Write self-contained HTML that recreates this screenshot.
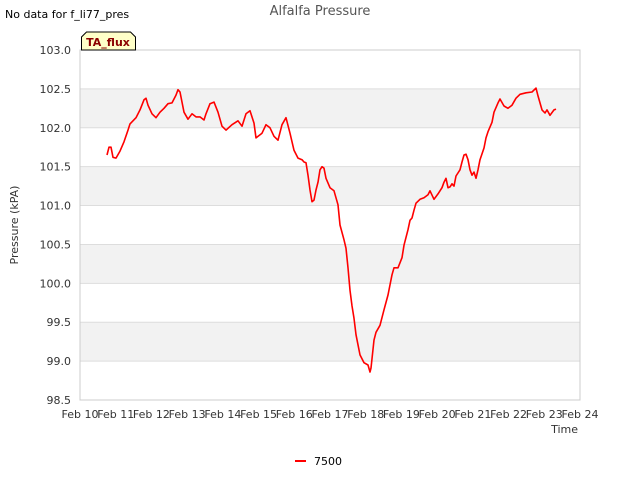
<!DOCTYPE html>
<html><head><meta charset="utf-8"><style>
body{margin:0;background:#fff}
svg{display:block;font-family:"DejaVu Sans","Liberation Sans",sans-serif}
</style></head><body>
<svg id="chart" width="640" height="480" viewBox="0 0 640 480">
<text x="5" y="18" font-size="11" fill="#000">No data for f_li77_pres</text>
<text x="320" y="15" font-size="13" fill="#555" text-anchor="middle">Alfalfa Pressure</text>
<g id="bands"></g>
<g id="grid"></g>
<rect x="80" y="50" width="500" height="350" fill="none" stroke="#ccc"/>
<g id="yticks"></g>
<g id="xticks"></g>
<text x="18" y="225" font-size="11" fill="#333" text-anchor="middle" transform="rotate(-90 18 225)">Pressure (kPA)</text>
<text x="578" y="433" font-size="11" fill="#333" text-anchor="end">Time</text>
<path id="series" fill="none" stroke="#f00" stroke-width="1.6" stroke-linejoin="round"/>
<g>
<path d="M81.5,50 L81.5,37 L86.5,32 L130.5,32 L135.5,37 L135.5,50 Z" fill="#ffffc8" stroke="#000" stroke-width="1"/>
<text x="108" y="46" font-size="11" font-weight="bold" fill="#8b0000" text-anchor="middle">TA_flux</text>
</g>
<g>
<line x1="295" y1="461" x2="306" y2="461" stroke="#f00" stroke-width="2"/>
<text x="314" y="465" font-size="11" fill="#000">7500</text>
</g>
</svg>
<script>
const yTicks=[98.5,99.0,99.5,100.0,100.5,101.0,101.5,102.0,102.5,103.0];
const xLabels=["Feb 10","Feb 11","Feb 12","Feb 13","Feb 14","Feb 15","Feb 16","Feb 17","Feb 18","Feb 19","Feb 20","Feb 21","Feb 22","Feb 23","Feb 24"];
const days=[0.756,0.812,0.868,0.924,1.008,1.12,1.232,1.344,1.4,1.568,1.68,1.792,1.848,1.904,2.016,2.128,2.24,2.352,2.464,2.576,2.688,2.744,2.8,2.912,3.024,3.136,3.248,3.36,3.472,3.528,3.64,3.752,3.864,3.976,4.088,4.256,4.424,4.536,4.648,4.76,4.872,4.928,5.096,5.208,5.32,5.432,5.544,5.656,5.768,5.88,5.992,6.104,6.216,6.272,6.328,6.384,6.44,6.496,6.552,6.608,6.664,6.72,6.776,6.832,6.888,7.0,7.112,7.224,7.28,7.392,7.448,7.504,7.56,7.616,7.672,7.728,7.784,7.84,7.952,8.064,8.12,8.148,8.232,8.288,8.4,8.512,8.624,8.68,8.736,8.792,8.848,8.904,9.016,9.072,9.184,9.24,9.296,9.352,9.408,9.52,9.632,9.744,9.8,9.912,10.024,10.136,10.192,10.248,10.304,10.36,10.416,10.472,10.528,10.64,10.696,10.752,10.808,10.864,10.92,10.976,11.032,11.088,11.144,11.2,11.312,11.368,11.424,11.536,11.592,11.704,11.76,11.872,11.984,12.096,12.208,12.32,12.488,12.656,12.768,12.824,12.936,13.02,13.076,13.16,13.272,13.328];
const pressure=[101.65,101.75,101.75,101.62,101.61,101.70,101.82,101.97,102.05,102.13,102.23,102.36,102.38,102.29,102.18,102.13,102.20,102.25,102.31,102.32,102.42,102.49,102.46,102.20,102.11,102.18,102.14,102.14,102.10,102.18,102.31,102.33,102.20,102.02,101.97,102.04,102.09,102.02,102.18,102.22,102.06,101.87,101.93,102.04,102.00,101.89,101.84,102.04,102.13,101.93,101.71,101.61,101.59,101.56,101.55,101.39,101.20,101.05,101.07,101.20,101.30,101.46,101.50,101.48,101.35,101.23,101.19,101.01,100.75,100.56,100.45,100.20,99.91,99.71,99.55,99.34,99.21,99.08,98.98,98.95,98.86,98.91,99.27,99.37,99.46,99.66,99.85,99.98,100.11,100.20,100.20,100.20,100.33,100.49,100.69,100.81,100.84,100.94,101.03,101.08,101.10,101.14,101.19,101.08,101.15,101.23,101.30,101.35,101.23,101.24,101.28,101.25,101.38,101.46,101.56,101.65,101.66,101.59,101.46,101.39,101.43,101.35,101.46,101.59,101.74,101.87,101.95,102.07,102.20,102.32,102.37,102.28,102.25,102.29,102.38,102.43,102.45,102.46,102.51,102.41,102.23,102.19,102.23,102.16,102.23,102.24];
const X0=80,X1=580,Y0=400,Y1=50,YMIN=98.5,YMAX=103.0,DMAX=14;
const sx=d=>X0+(X1-X0)*d/DMAX;
const sy=v=>Y0-(Y0-Y1)*(v-YMIN)/(YMAX-YMIN);
const NS="http://www.w3.org/2000/svg";
const bands=document.getElementById('bands'),grid=document.getElementById('grid'),yt=document.getElementById('yticks'),xt=document.getElementById('xticks');
for(let i=0;i<yTicks.length-1;i++){
  if(i%2===1){
    const r=document.createElementNS(NS,'rect');
    
    
    r.setAttribute('x',X0);r.setAttribute('width',X1-X0);
    r.setAttribute('y',sy(yTicks[i+1]));r.setAttribute('height',sy(yTicks[i])-sy(yTicks[i+1]));
    r.setAttribute('fill','#f2f2f2');bands.appendChild(r);
  }
}
yTicks.forEach(v=>{
  const y=sy(v);
  const l=document.createElementNS(NS,'line');
  
  
  l.setAttribute('x1',X0);l.setAttribute('x2',X1);l.setAttribute('y1',y);l.setAttribute('y2',y);
  l.setAttribute('stroke','#ddd');grid.appendChild(l);
  const t=document.createElementNS(NS,'text');
  
  
  t.setAttribute('x',X0-9);t.setAttribute('y',y+4);t.setAttribute('font-size','11');
  t.setAttribute('fill','#333');t.setAttribute('text-anchor','end');t.textContent=v.toFixed(1);yt.appendChild(t);
});
xLabels.forEach((s,i)=>{
  const t=document.createElementNS(NS,'text');
  
  
  t.setAttribute('x',sx(i));t.setAttribute('y',Y0+18);t.setAttribute('font-size','11');
  t.setAttribute('fill','#333');t.setAttribute('text-anchor','middle');t.textContent=s;xt.appendChild(t);
});
document.getElementById('series').setAttribute('d',days.map((d,i)=>(i?'L':'M')+sx(d).toFixed(1)+','+sy(pressure[i]).toFixed(1)).join(''));
</script>
</body></html>
